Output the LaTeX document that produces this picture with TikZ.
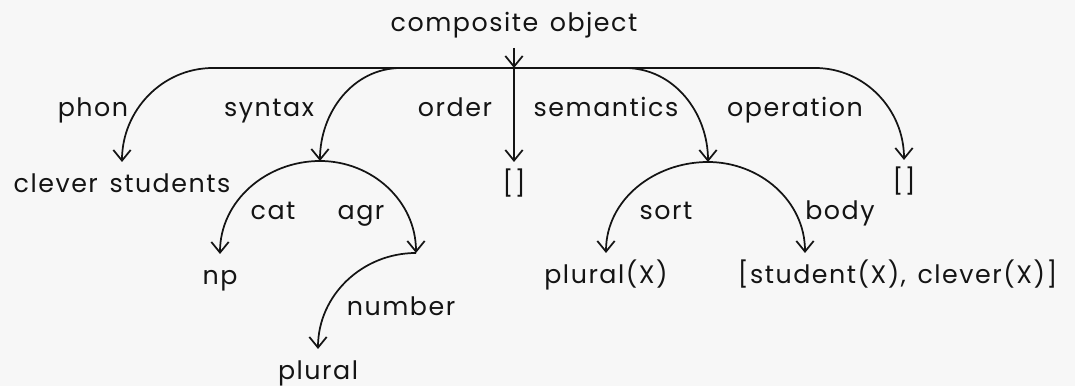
\documentclass[tikz,border=0pt]{standalone}
\usepackage{fontspec}
\setmainfont{Poppins}[LetterSpace=6, WordSpace=1.4]
\usetikzlibrary{arrows.meta}

\definecolor{paper}{gray}{0.97}
\definecolor{ink}{gray}{0.08}

\begin{document}
\begin{tikzpicture}[x=0.75pt, y=0.75pt, line width=1.3pt, draw=ink, text=ink,
  every node/.style={font=\fontsize{19}{22}\selectfont, inner sep=0pt},
  obj/.style={anchor=north, text height=22pt},
  lbl/.style={anchor=base},
  arr/.style={-{Straight Barb[length=8pt,width=13pt]}}]
  \fill[paper] (0,0) rectangle (1075,386);

  % the object and its feature bar
  \node[anchor=south, text depth=12pt] (root) at (514,338) {composite object};
  \coordinate (hub)      at (514,318);
  \coordinate (phonbend) at (213,318);
  \coordinate (synbend)  at (401,318);
  \coordinate (sembend)  at (625,318);
  \coordinate (opbend)   at (815,318);
  \coordinate (syn)      at (320,225);
  \coordinate (sem)      at (708,224);
  \coordinate (agr)      at (416,133);

  % values
  \node[obj] (phonval) at (122,224) {clever students};
  \node[obj] (ordval)  at (514,224) {[]};
  \node[obj] (opval)   at (904,226) {[]};
  \node[obj] (np)      at (220,132) {np};
  \node[obj] (plural)  at (318,37)  {plural};
  \node[obj] (sortval) at (606,133) {plural(X)};
  \node[obj, anchor=north west] (bodyval) at (737,133) {[student(X), clever(X)]};

  % feature names
  \node[lbl] (phon)   at (93,269)  {phon};
  \node[lbl] (syntax) at (269,269) {syntax};
  \node[lbl] (order)  at (455,269) {order};
  \node[lbl] (seman)  at (606,269) {semantics};
  \node[lbl] (oper)   at (795,269) {operation};
  \node[lbl] (cat)    at (273,166) {cat};
  \node[lbl] (agrl)   at (361,166) {agr};
  \node[lbl] (numb)   at (401,70)  {number};
  \node[lbl] (sort)   at (666,166) {sort};
  \node[lbl] (body)   at (840,166) {body};

  \draw[arr] (root.south) -- (hub);
  \draw (phonbend) -- (opbend);
  \draw[arr] (phonbend) to[out=180,in=90] (phonval.north);
  \draw[arr] (synbend) to[out=180,in=90] (syn);
  \draw[arr] (hub) -- (ordval.north);
  \draw[arr] (sembend) to[out=0,in=90] (sem);
  \draw[arr] (opbend) to[out=0,in=90] (opval.north);

  \draw[arr] (syn) to[out=180,in=90] (np.north);
  \draw[arr] (syn) to[out=0,in=90] (agr);
  \draw[arr] (agr) to[out=180,in=90] (plural.north);
  \draw[arr] (sem) to[out=180,in=90] (sortval.north);
  \draw[arr] (sem) to[out=0,in=90] ([xshift=51pt]bodyval.north west);
\end{tikzpicture}
\end{document}
